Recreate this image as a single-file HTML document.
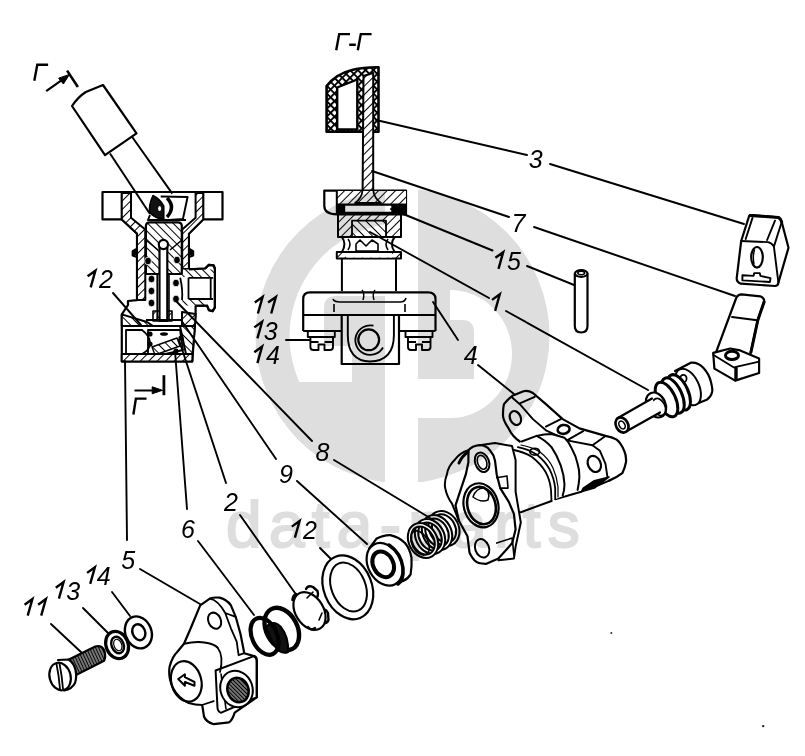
<!DOCTYPE html>
<html><head><meta charset="utf-8">
<style>
html,body{margin:0;padding:0;background:#fff;}
body{width:805px;height:756px;overflow:hidden;position:relative;}
svg{position:absolute;left:0;top:0;}
.wm{font-family:"Liberation Sans",sans-serif;font-size:64px;fill:#dedede;stroke:#dedede;stroke-width:2px;letter-spacing:7.3px;}
.lb{font-family:"Liberation Sans",sans-serif;font-style:italic;font-size:25px;fill:#000;}
</style></head>
<body>
<svg width="805" height="756" viewBox="0 0 805 756">
<defs>
  <clipPath id="cl"><rect x="0" y="0" width="385" height="756"/></clipPath>
  <clipPath id="cc"><circle cx="402.5" cy="336" r="147"/></clipPath>
  <clipPath id="cr"><rect x="418" y="0" width="387" height="756"/></clipPath>
  <pattern id="hat" patternUnits="userSpaceOnUse" width="6" height="6" patternTransform="rotate(45)">
    <rect width="6" height="6" fill="#fff"/><line x1="0" y1="0" x2="0" y2="6" stroke="#000" stroke-width="2"/>
  </pattern>
  <pattern id="hat2" patternUnits="userSpaceOnUse" width="6" height="6" patternTransform="rotate(-45)">
    <rect width="6" height="6" fill="#fff"/><line x1="0" y1="0" x2="0" y2="6" stroke="#000" stroke-width="2"/>
  </pattern>
</defs>
<!-- LEFT SECTIONAL BODY -->
<g id="body" stroke="#000" stroke-width="2" stroke-linejoin="round" fill="none">
  <!-- section arrow top -->
  <path d="M46.2,91.1 L61,80.7" stroke-width="2.2"/>
  <path d="M58.6,78.2 L69.5,74.4 L63.4,84 Z" fill="#000" stroke-width="1"/>
  <path d="M67.1,70.6 L77.9,87" stroke-width="2.6"/>
  <!-- knob -->
  <path d="M72,106 Q78,97 85.8,92 L103,85 L136.5,133.3 L105,155.1 Z" fill="#fff" stroke-width="2.2"/>
  <!-- outer silhouette -->
  <path d="M102.5,192 L222.5,192 L222.5,219.4 L203.2,219.4 L188.9,233.6 L188.9,248.7 L193.1,251.2 L193.1,255.4 L188.9,257.1 L188.9,269.4 L205.2,268.5 L208.9,264.8 L213.5,265.3 L214.9,268.5 L214.9,307.4 L212.6,311.1 L208.9,310.2 L207,305.6 L195.6,305.6 L195.6,314 L192.3,361.4 L121.8,361.4 L121.8,314.4 L128,305 L128,301 L137,300.2 L137,257.1 L132.7,255.4 L132.7,251.2 L137,248.7 L137,233.6 L121.8,219.4 L102.5,219.4 Z" fill="#fff" stroke-width="2.2"/>
  <path d="M121.8,192 L121.8,219.4 M203.2,192 L203.2,219.4"/>
  <!-- hatched walls -->
  <path d="M121.8,193 L131,193 L131,217.7 L145.3,229.4 L145.3,300 L137,300 L137,233.6 L121.8,219.4 Z" fill="url(#hat)"/>
  <path d="M195.6,193 L203.2,193 L203.2,219.4 L188.9,233.6 L188.9,269 L182.2,269 L182.2,229.4 L195.6,217.7 Z" fill="url(#hat)"/>
  <path d="M182.2,269.4 L214.9,269.4 L214.9,276.9 L182.2,276.9 Z M182.2,299 L207,299 L207,305.6 L182.2,305.6 Z" fill="url(#hat2)" stroke="none"/>
  <path d="M188.9,269.4 L205.2,268.5 L208.9,264.8 L213.5,265.3 L214.9,268.5 L214.9,307.4 L212.6,311.1 L208.9,310.2 L207,305.6 L195.6,305.6" stroke-width="2.2"/>
  <path d="M188.5,277.8 L213,277.8 M188.5,299 L213,299 M188.5,277.8 L188.5,299 M210.7,277.8 L210.7,299" stroke-width="1.8"/>
  <path d="M180.2,277.8 Q183,290 182,300" stroke-width="1.8"/>
  <!-- shaft -->
  <path d="M110,153.5 L150,214 M132.2,137 L172.3,193.7" stroke-width="2"/>
  <!-- lever end in cavity -->
  <path d="M160.7,196.4 L187.6,196.9 L182.9,219.1 L166,220.2" fill="#fff" stroke-width="2"/>
  <path d="M153,195.5 Q148,206 150,213 Q156,219 163.8,219.1 L163.8,206 Q160,199 153,195.5 Z" fill="#111" stroke-width="1.5"/>
  <ellipse cx="159.6" cy="208.5" rx="1.5" ry="2.5" fill="#fff" stroke="none"/>
  <path d="M167,198 Q176,207 167,217" stroke-width="3.4"/>
  <path d="M150,215 L148,220 L186,220" stroke-width="2"/>
  <!-- plunger top hatched -->
  <path d="M145.9,226 Q145.9,222.3 150,222.3 L178,222.3 Q181.8,222.3 181.8,226 L181.8,274 L145.9,274 Z" fill="url(#hat2)" stroke-width="2.2"/>
  <path d="M146,240 L158,250 M182,240 L170,250" stroke-width="1.6"/>
  <!-- tube & stem -->
  <path d="M153,311 L172,311 L172,321 L153,321 Z" fill="url(#hat)" stroke-width="1.6"/>
  <path d="M157.2,274 L157.2,321 M169,274 L169,321" stroke-width="1.6"/>
  <path d="M159.5,321 L159.5,247 L167.3,247 L167.3,321 Z" fill="#fff" stroke-width="2.2"/>
  <circle cx="163.4" cy="244.5" r="4.6" fill="#fff" stroke-width="2.2"/>
  <!-- spring coils -->
  <g fill="#000" stroke="#fff" stroke-width="0.8">
    <ellipse cx="148" cy="261" rx="3.4" ry="3.8"/><ellipse cx="151.5" cy="279" rx="3.4" ry="3.8"/><ellipse cx="151.5" cy="291" rx="3.4" ry="3.8"/><ellipse cx="151.5" cy="303" rx="3.4" ry="3.8"/>
    <ellipse cx="177" cy="260" rx="3.4" ry="3.8"/><ellipse cx="176" cy="283" rx="3.4" ry="3.8"/><ellipse cx="176" cy="299" rx="3.4" ry="3.8"/>
  </g>
  <g fill="#000" stroke="none"><ellipse cx="135" cy="253" rx="2" ry="2.5"/><ellipse cx="191" cy="253" rx="2" ry="2.5"/></g>
  <path d="M146,320 L182,320" stroke-width="2"/>
  <!-- bottom block -->
  <path d="M121.8,326 L195,326" stroke-width="1.8"/>
  <path d="M121.8,314.4 L147,322 L153,326 L121.8,326 Z" fill="url(#hat2)"/>
  <path d="M182,312 L195.6,314 L195,326 L182,326 Z" fill="url(#hat)"/>
  <path d="M126,330 L142,330 Q150,336 150,343 Q150,350 142,354 L126,354 Z" fill="#fff" stroke-width="1.8"/>
  <path d="M148,330 L180,330 L183,350 L148,358 Z" fill="none" stroke-width="1.8"/>
  <path d="M152,347 L177,338 L180,346 L155,355 Z" fill="url(#hat2)" stroke-width="1.4"/>
  <ellipse cx="164" cy="334" rx="4" ry="1.8" fill="#000" stroke="none"/>
  <path d="M121.8,354 L192.5,354 L192.3,361.4 L121.8,361.4 Z" fill="url(#hat)"/>
  <path d="M180,326 L186,354 L192.5,354 L195,326 Z" fill="url(#hat2)"/>
  <g fill="#000" stroke="none">
    <circle cx="150" cy="334" r="2.6"/><circle cx="150" cy="344" r="2.6"/><circle cx="181" cy="338" r="2.6"/><circle cx="176" cy="351" r="2.6"/>
  </g>
  <!-- bottom section arrow -->
  <path d="M163.9,375.2 L163.9,395.2" stroke-width="2.8"/>
  <path d="M134.5,390.5 L154,390.5" stroke-width="2"/>
  <path d="M152.2,386.8 L162.5,390.3 L152.2,393.8 Z" fill="#000" stroke-width="1"/>
</g>

<!-- SECTION VIEW Г-Г -->
<defs>
  <pattern id="xh" patternUnits="userSpaceOnUse" width="5.5" height="5.5" patternTransform="rotate(45)">
    <rect width="5.5" height="5.5" fill="#000"/><rect x="1" y="1" width="3.6" height="3.6" fill="#fff"/>
  </pattern>
</defs>
<g id="sect" stroke="#000" stroke-width="2" stroke-linejoin="round" fill="none">
  <!-- knob 3 section -->
  <path d="M326.6,131.7 L326.6,86 Q336,74 352,70 Q364,67 378.5,67.2 L378.5,131.7 Z" fill="url(#xh)" stroke-width="2.6"/>
  <path d="M337.2,129.5 L337.2,87.5 L357.3,79.5 L357.3,129.5 Z" fill="#fff" stroke-width="2.4"/>
  <!-- rod -->
  <path d="M363.5,76 L373.2,73 L373.2,191 L362.6,191 Z" fill="url(#hat)" stroke-width="2"/>
  <!-- body top cap -->
  <path d="M324.3,190.6 L406,190.6 L406,214.4 L336.8,214.4 Q324.3,214 324.3,206 Z" fill="#fff" stroke-width="2.2"/>
  <path d="M336.8,191 L406,191 L406,204 L336.8,204 Z" fill="url(#hat)" stroke="none"/>
  <path d="M336.8,190.6 L336.8,214.4"/>
  <path d="M362.6,190 Q362,198 355,203 L381,203 Q374,198 373.2,190" fill="none" stroke-width="1.8"/>
  <rect x="336.8" y="203.5" width="69.2" height="11" fill="#000" stroke="none"/>
  <rect x="344.4" y="205" width="47.7" height="7.6" fill="#fff" stroke-width="1.6"/>
  <!-- middle block -->
  <path d="M338,214.4 L401,214.4 L401,237 L338,237 Z" fill="url(#hat)" stroke-width="2"/>
  <path d="M352,220.7 L386,220.7 L386,237 L352,237 Z" fill="url(#hat2)" stroke-width="1.8"/>
  <!-- neck with grooves -->
  <path d="M341.9,237 Q347,244 341.9,252 M394.7,237 Q389,244 394.7,252" stroke-width="2"/>
  <path d="M348,239 Q352,244 348,250 M388,239 Q384,244 388,250" stroke-width="1.6"/>
  <path d="M356,244 L360,240 L366,246 L372,240 L378,244 L378,251 L356,251 Z" fill="none" stroke-width="1.6"/>
  <path d="M341.9,237 L394.7,237"/>
  <!-- bottom flange -->
  <path d="M336.8,252 L401,252 L401,258.4 L336.8,258.4 Z" fill="url(#hat)" stroke-width="2"/>
  <path d="M346,253 L392,253 L392,257.5 L346,257.5 Z" fill="#fff" stroke="none"/>
  <!-- column -->
  <path d="M341.9,258.4 L341.9,291 M396,258.4 L396,291" stroke-width="2"/>
  <!-- bracket -->
  <path d="M303.2,331 L303.2,299 Q303.2,292.4 310,292.4 L428,292.4 Q435.5,292.4 435.5,299 L435.5,331" stroke-width="2.2"/>
  <path d="M303.2,315 L435.5,315 M303.2,331 L341.7,331 M399,331 L435.5,331" stroke-width="2"/>
  <path d="M333,299 Q334,302 340,302 L400,302 Q405,302 406,298 M334,304 L334,312 M405,304 L405,312" stroke-width="1.6"/>
  <path d="M362,290 Q365,294 363,300 M375,290 Q372,294 374,300" stroke-width="1.5"/>
  <!-- eye boss -->
  <path d="M341.7,315 L341.7,364 L399,364 L399,315" stroke-width="2.2"/>
  <path d="M347.8,315 L347.8,335 Q347.8,361 370,361.5 Q393.9,361 393.9,335 L393.9,315" stroke-width="1.9"/>
  <circle cx="368.7" cy="339.8" r="10.4" stroke-width="2.2"/>
  <path d="M383,347.5 A14.8,14.8 0 1 1 373.5,325.7" stroke-width="1.8"/>
  <!-- screw heads -->
  <path d="M307.8,331 L334.8,331 L334.8,337 L307.8,337 Z" stroke-width="1.9"/>
  <path d="M310.4,337 L310.4,347 Q310.4,350 313.5,350 L318.5,350 L318.5,344.5 L324.5,344.5 L324.5,350 L330,350 Q333,350 333,347 L333,337 M310.4,342 L318.5,342 M324.5,342 L333,342" stroke-width="1.9"/>
  <path d="M405.5,331 L432.5,331 L432.5,337 L405.5,337 Z" stroke-width="1.9"/>
  <path d="M408,337 L408,347 Q408,350 411,350 L416,350 L416,344.5 L422,344.5 L422,350 L427.5,350 Q430.5,350 430.5,347 L430.5,337 M408,342 L416,342 M422,342 L430.5,342" stroke-width="1.9"/>
</g>

<!-- RIGHT PARTS -->
<g id="right" stroke="#000" stroke-width="2" stroke-linejoin="round" stroke-linecap="round" fill="none">
  <!-- part 3 knob -->
  <path d="M749.1,216.2 Q750,215 752.5,215.1 L778.4,217.4 Q781,219 781.7,221.9 L788.5,247.7 L778.4,282.6 Q778,286 775,286 L741,283.7 Q736.5,282 736.7,278.1 L741.2,241 Z" fill="#fff" stroke-width="2.2"/>
  <path d="M750,215.5 L778.4,217.4 Q781,219 781.7,221.9" stroke-width="3"/>
  <path d="M741.2,241 L768.2,242.1 Q772,243 773.9,246.6 L778.4,282.6 M745.7,239 L752.5,217.9 M767.1,240 L775,220.7 M773.9,246.6 L781.7,222" stroke-width="1.9"/>
  <ellipse cx="757" cy="257.3" rx="5.8" ry="10.3" stroke-width="2.2"/>
  <path d="M754.5,250 Q752.5,256 754,264" stroke-width="1.4"/>
  <path d="M742.4,275.3 L753.6,275.9 L754.2,273.1 L759.8,273.1 L760.4,275.9 L770.5,278.1 L769.9,282 L742.4,280.4 Z" stroke-width="1.9"/>
  <!-- pin 15 -->
  <path d="M574.8,274 L574.8,326 Q574.8,332.5 581.2,332.5 Q587.5,332.5 587.5,326 L587.5,274" fill="#fff" stroke-width="2.2"/>
  <ellipse cx="581.2" cy="273.5" rx="6.3" ry="3.4" fill="#fff" stroke-width="2.2"/>
  <ellipse cx="581.2" cy="273" rx="3.4" ry="1.7" stroke-width="1.6"/>
  <!-- part 7 lever -->
  <path d="M716.3,351.6 L736.4,297.5 Q738,294.4 741.5,294.4 L760.3,296.3 Q764.5,298 764.1,301.3 L757.8,320.2 L750.3,354.2" fill="#fff" stroke-width="2.2"/>
  <path d="M764.1,302 L757.8,320.2 L751,352" stroke-width="3"/>
  <path d="M732,317 L757.2,320.2" stroke-width="1.9"/>
  <path d="M713.2,352.9 L730.2,348.5 L740.2,350.4 L759.1,358.6 L759.1,373 L735.2,380.6 L714.4,368.6 Z" fill="#fff" stroke-width="2.2"/>
  <path d="M713.2,354.8 L733.9,367.4 L759.1,361.7 M735.2,368 L735.2,380.6 M736.8,368 L736.8,380" stroke-width="1.8"/>
  <ellipse cx="732" cy="355.4" rx="6.5" ry="4.2" stroke-width="3"/>
  <!-- part 1 plunger -->
  <path d="M675,371 L690.8,362.7 Q698,362 703.5,368 Q709,374 710.9,381.7 Q713,390 712,392.3 Q711,397 706.7,399.7 L695,404.5" fill="#fff" stroke-width="2.2"/>
  <ellipse cx="688" cy="387" rx="11" ry="19.5" transform="rotate(-25 688 387)" fill="#fff" stroke-width="2"/>
  <ellipse cx="683.4" cy="378.6" rx="3.2" ry="3.8" stroke-width="1.8"/>
  <ellipse cx="679" cy="392.3" rx="9" ry="19" transform="rotate(-25 679 392.3)" fill="#fff" stroke-width="3"/>
  <ellipse cx="672.8" cy="395.5" rx="9" ry="19" transform="rotate(-25 672.8 395.5)" fill="#fff" stroke-width="3"/>
  <ellipse cx="666.5" cy="399.5" rx="9" ry="18.5" transform="rotate(-25 666.5 399.5)" fill="#fff" stroke-width="3"/>
  <ellipse cx="656" cy="405" rx="9.5" ry="13" transform="rotate(-25 656 405)" fill="#fff" stroke-width="2.2"/>
  <ellipse cx="659" cy="407" rx="6" ry="9" transform="rotate(-25 659 407)" fill="#fff" stroke-width="1.8"/>
  <path d="M617,418.5 L652,398.5 L660,412.5 L627,431 Z" fill="#fff" stroke="none"/>
  <path d="M617,418.5 L652,398.5 M627,431 L660,412.5" stroke-width="2.2"/>
  <ellipse cx="622" cy="425" rx="6" ry="8" transform="rotate(-30 622 425)" fill="#fff" stroke-width="2.6"/>
  <ellipse cx="622" cy="425" rx="2.8" ry="4.2" transform="rotate(-30 622 425)" stroke-width="1.6"/>
  <!-- part 4 housing -->
  <!-- rear arm & right lug -->
  <path d="M512.4,395.8 L523.5,391.2 Q528,390 532.9,393 L545.9,404.2 L562.7,419.1 L579.4,428.4 L605.5,435.9 L616.7,439.6 Q622,444 624.2,450.8 Q627,456 626,462 Q625,468 622.3,473.2 L609.2,480.6 L581.3,491.8 L555.2,499.2 L540,480 L521.7,441.5 Q512,436 508.6,428.4 Q503,420 503,415.4 Q503,408 504,404.2 Z" fill="#fff" stroke="none"/>
  <path d="M519.8,441.5 Q512,436 508.6,428.4 Q503,420 503,415.4 Q503,408 504,404.2 Q508,399 512.4,395.8 L523.5,391.2 Q528,390 532.9,393 L545.9,404.2 L562.7,419.1 L579.4,428.4 L605.5,435.9 Q612,437 616.7,439.6 Q621,443 624.2,450.8 Q626.5,456 626,462 Q625,468 622.3,473.2 Q616,478 609.2,480.6" stroke-width="2.2"/>
  <path d="M512.4,397.7 L519.8,404.2 L532.9,419.1 L545.9,430.3 L568.3,440.6 L592.5,445.2 L605.5,435.9 M519.8,403.3 L534.7,396.8 M545.9,426.6 L560.8,419.1 M568.3,439.6 L583.2,431.2" stroke-width="1.9"/>
  <path d="M592.5,445.2 L599.9,450.8 L605.5,463.9 L607.4,476.9" stroke-width="1.9"/>
  <path d="M583.2,488.1 L594.3,480.6 L609.2,476.9 L594.3,488.1 L581.3,491.8 Z" fill="#000" stroke-width="1.4"/>
  <path d="M555.2,499.2 L581.3,491.8 M609.2,480.6 L594,487" stroke-width="2"/>
  <ellipse cx="515.4" cy="418" rx="5.3" ry="7.3" transform="rotate(-25 515.4 418)" stroke-width="2.2"/>
  <ellipse cx="563.6" cy="429.4" rx="6" ry="4.4" transform="rotate(-10 563.6 429.4)" stroke-width="2.6"/>
  <ellipse cx="594.3" cy="463.9" rx="6.3" ry="8.4" transform="rotate(-25 594.3 463.9)" stroke-width="2.2"/>
  <!-- cylinder -->
  <path d="M512,452 L521.7,441.5 L536.6,435.9 L551.5,434 L564.5,437.8 L572,448.9 L577.6,463.9 L579.4,476.9 L577.6,489.9 L555.2,499.2 L520.8,512.2 Z" fill="#fff" stroke="none"/>
  <path d="M521.7,441.5 L536.6,435.9 Q544,434 551.5,434 L564.5,437.8 Q569,442 572,448.9 Q576,456 577.6,463.9 Q579.5,470 579.4,476.9 Q579,484 577.6,489.9" stroke-width="2"/>
  <path d="M536.6,435.9 Q545,440 551.5,447.1 Q557,455 560.8,465.7 Q564,475 564.5,484.3 Q564.5,490 562.7,495.5" stroke-width="2"/>
  <path d="M517.9,447.1 Q528,449 536.6,454.5 Q545,461 549.6,469.4 Q554,478 555.2,488.1 L555.2,499.2 M514,450 Q524,452 532,457 Q541,464 545.6,472 Q550,480 551,490 L551.5,501" stroke-width="1.8"/>
  <path d="M521,445 Q532,447 540,452 Q549,459 553,468 Q557,477 558,487 L558,497" stroke-width="1.2"/>
  <ellipse cx="534.7" cy="451.7" rx="4.8" ry="3.4" stroke-width="1.8"/>
  <path d="M520.8,512.2 L551.5,501" stroke-width="2"/>
  <!-- front flange -->
  <path d="M468.4,450.3 L455.5,458.9 Q448,466 446.9,474.4 Q444,482 445.2,488.1 Q447,497 452,503.6 L458.9,520.8 L467.5,536.3 Q468,545 469.2,550 Q472,559 474.4,560.3 L486.4,563.8 L498.4,558.6 L513.9,558.6 L515.6,546.6 L520.8,522.5 L515.6,491.6 L512.2,460.6 L495,460.6 Q493,452 489.9,450.3 Q485,445 479.5,445.2 Z" fill="#fff" stroke="none"/>
  <path d="M468.4,450.3 Q460,453 455.5,458.9 Q448,466 446.9,474.4 Q444,482 445.2,488.1 Q447,497 452,503.6 L458.9,520.8" stroke-width="2"/>
  <path d="M459,463 Q462,456 468,452" stroke-width="3"/>
  <path d="M468.4,450.3 Q472,446 479.5,445.2 Q486,445 489.9,450.3 Q494,455 495,460.6 L496.7,474.4 L500.2,488.1 L508.8,501.9 L513.9,513.9 L515.6,529.4 L512.2,543.1 L498.4,558.6 L486.4,563.8 Q478,564 474.4,560.3 Q469,554 469.2,550 L467.5,536.3 L458.9,520.8 L455.5,505.3 L460.6,489.9 L465.8,474.4 L468.4,462.3 Z" stroke-width="2.2"/>
  <path d="M479.5,445.2 L495,443 L512,446 L515.6,460 L515.6,491.6 L520.8,522.5 L515.6,546.6 L513.9,558.6 L498.4,560.3" stroke-width="2"/>
  <path d="M496.7,477.8 L507,476 L508,488.1 L500.2,488.1" stroke-width="1.6"/>
  <path d="M496.7,543.1 L512.2,538 L513.9,555.2" stroke-width="1.6"/>
  <ellipse cx="482.1" cy="462.3" rx="6.9" ry="10" transform="rotate(-20 482.1 462.3)" stroke-width="2"/>
  <ellipse cx="482.1" cy="462.3" rx="4.5" ry="7.2" transform="rotate(-20 482.1 462.3)" stroke-width="1.6"/>
  <ellipse cx="482.1" cy="548.3" rx="6.9" ry="9.5" transform="rotate(-20 482.1 548.3)" stroke-width="2"/>
  <ellipse cx="481" cy="505.3" rx="17.2" ry="22.3" transform="rotate(-15 481 505.3)" stroke-width="2.2"/>
  <ellipse cx="481.5" cy="505.5" rx="14" ry="19" transform="rotate(-15 481.5 505.5)" stroke-width="2.6"/>
  <path d="M473,497 Q476,488 484,488 Q491,492 488,500 Q481,503 473,497" stroke-width="1.5"/>
</g>

<!-- BOTTOM PARTS -->
<defs>
  <pattern id="thr" patternUnits="userSpaceOnUse" width="2.8" height="2.8" patternTransform="rotate(-25)">
    <rect width="3" height="3" fill="#777"/><line x1="0" y1="0" x2="0" y2="3" stroke="#000" stroke-width="1.8"/>
  </pattern>
</defs>
<g id="bottom" stroke="#000" stroke-width="2" stroke-linejoin="round" stroke-linecap="round" fill="none">
  <!-- spring 8 -->
  <g>
    <ellipse cx="444" cy="528.5" rx="13" ry="16.5" transform="rotate(-28 444 528.5)" fill="#fff" stroke-width="5.4"/>
    <ellipse cx="444" cy="528.5" rx="13" ry="16.5" transform="rotate(-28 444 528.5)" stroke="#fff" stroke-width="1.4"/>
    <ellipse cx="437" cy="532.5" rx="12.5" ry="16.5" transform="rotate(-28 437 532.5)" stroke-width="5.4"/>
    <ellipse cx="437" cy="532.5" rx="12.5" ry="16.5" transform="rotate(-28 437 532.5)" stroke="#fff" stroke-width="1.4"/>
    <ellipse cx="430" cy="536.5" rx="12.5" ry="16.5" transform="rotate(-28 430 536.5)" stroke-width="5.4"/>
    <ellipse cx="430" cy="536.5" rx="12.5" ry="16.5" transform="rotate(-28 430 536.5)" stroke="#fff" stroke-width="1.4"/>
    <ellipse cx="423" cy="540.5" rx="12.5" ry="16.5" transform="rotate(-28 423 540.5)" stroke-width="5.4"/>
    <ellipse cx="423" cy="540.5" rx="12.5" ry="16.5" transform="rotate(-28 423 540.5)" stroke="#fff" stroke-width="1.4"/>
    <ellipse cx="420" cy="543" rx="8" ry="13" transform="rotate(-28 420 543)" stroke-width="1.6"/>
  </g>
  <!-- bearing 9 -->
  <path d="M369,549 L376.3,538.8 Q383,535 390.2,535.1 Q399,537 405,543 Q410,549 411.5,557.8 Q412,566 410.6,574.4 Q408,579 403.1,580.9 L392,585" fill="#fff" stroke-width="2.2"/>
  <ellipse cx="384.6" cy="564.3" rx="16.5" ry="22.5" transform="rotate(-28 384.6 564.3)" fill="#fff" stroke-width="2.2"/>
  <path d="M389,545 Q401,553 403,568 Q404,580 398,584" stroke-width="3.5"/>
  <ellipse cx="383.2" cy="564.3" rx="10" ry="13.5" transform="rotate(-28 383.2 564.3)" stroke-width="4"/>
  <!-- o-ring 12 -->
  <ellipse cx="347.8" cy="587.3" rx="24" ry="33" transform="rotate(-22 347.8 587.3)" stroke-width="2.2"/>
  <ellipse cx="348.5" cy="587" rx="17" ry="25.5" transform="rotate(-22 348.5 587)" stroke-width="2"/>
  <!-- clip 2 -->
  <path d="M306,589 Q308,585 313,587 L317.5,591 Q319,596 316,598" fill="#fff" stroke-width="2.4"/>
  <path d="M320,610 Q325,607 328,613 L328.5,620 Q327,624 322,623" fill="#fff" stroke-width="2.4"/>
  <ellipse cx="309.5" cy="611" rx="14" ry="20.5" transform="rotate(-32 309.5 611)" fill="#fff" stroke-width="2.2"/>
  <path d="M307,598 L313,592 M322,613 L319,620" stroke-width="1.6"/>
  <path d="M308,627 Q311,631 315,628" stroke-width="2.2"/>
  <path d="M292.5,600 Q293,595 296,594" stroke-width="2.6"/>
  <!-- spring ring 6 -->
  <ellipse cx="281.8" cy="629" rx="15.5" ry="22.5" transform="rotate(-28 281.8 629)" stroke-width="4.4"/>
  <path d="M266,627 Q273,619 281,627 Q289,637 288,652 Q284,654 279,651 Q270,640 266,627 Z" fill="#111" stroke-width="2"/>
  <ellipse cx="264.6" cy="636.3" rx="12.5" ry="19.5" transform="rotate(-25 264.6 636.3)" stroke-width="4.2"/>
  <!-- body 5 -->
  <path d="M200.2,605.3 L209.8,598.6 Q214,597 219.4,597.7 Q226,599 230.9,605.3 L235.7,616.8 L240.5,634 L244.3,653.2 L253.9,656.1 Q257,658 256.8,662 L256.8,697.3 L234.7,712.7 Q232,721 229,722.3 L213.7,724.2 Q206,722 204,716.5 L202.2,705 Q195,705 188.7,703 Q178,698 173,688 Q168,678 169.6,666.7 Q172,657 178,651 L184,643.7 L190.7,628.3 Z" fill="#fff" stroke-width="2.2"/>
  <path d="M209.8,598.6 Q218,600 225.2,613 L230.9,628.3 L236.7,641.7 L238.6,655.2 M225.2,613 L235.7,616.8 M238.6,655.2 L244.3,653.2" stroke-width="1.8"/>
  <path d="M184,643.7 Q196,641 206,642.7 Q214,644 217.5,647.5" stroke-width="2"/>
  <ellipse cx="214.6" cy="620.7" rx="6.2" ry="8.4" transform="rotate(-25 214.6 620.7)" stroke-width="2"/>
  <ellipse cx="186.3" cy="681.4" rx="15" ry="20.6" transform="rotate(-15 186.3 681.4)" stroke-width="2.2"/>
  <path d="M217.5,647.5 Q224,656 220,672 M202,705 L213.7,701.2" stroke-width="1.8"/>
  <path d="M178.2,679 L184.9,674.3 L184.9,677.2 L194.5,682 L194.5,685.8 L184.9,682 L184.9,685.8 Z" stroke-width="2"/>
  <path d="M215.6,670.5 L253.9,656.1 Q257,656 256.8,661 L256.8,697.3 L221.3,712.7 Q218,712 217.5,708 Z" stroke-width="2"/>
  <path d="M221,674 Q224,694 226,709" stroke-width="1.6"/>
  <ellipse cx="236.5" cy="689" rx="16" ry="18.5" transform="rotate(-20 236.5 689)" fill="#fff" stroke-width="2"/>
  <ellipse cx="238" cy="690" rx="10.5" ry="12.5" transform="rotate(-20 238 690)" fill="url(#thr)" stroke-width="2.4"/>
  <!-- washer 14 -->
  <ellipse cx="138.4" cy="632.4" rx="13" ry="16.4" transform="rotate(-22 138.4 632.4)" fill="#fff" stroke-width="2.4"/>
  <ellipse cx="138.8" cy="632.2" rx="6.3" ry="8.2" transform="rotate(-22 138.8 632.2)" stroke-width="2.4"/>
  <!-- washer 13 -->
  <ellipse cx="117.1" cy="645" rx="11" ry="14" transform="rotate(-22 117.1 645)" fill="#fff" stroke-width="3.2"/>
  <ellipse cx="117.6" cy="645" rx="6" ry="8.5" transform="rotate(-22 117.6 645)" stroke-width="2.4"/>
  <ellipse cx="117.8" cy="645" rx="3.8" ry="6" transform="rotate(-22 117.8 645)" stroke-width="1.2"/>
  <!-- screw 11 -->
  <path d="M68,660 L95.2,646.5 Q102,645 104.5,651 Q106,657 104.1,660.7 L75,675.6 Z" fill="url(#thr)" stroke-width="2.2"/>
  <path d="M58,660 L68.5,659.5 Q74,663 75.5,670 Q77,677 75,683 Q72,689 64.3,690.5" fill="#fff" stroke-width="2.2"/>
  <ellipse cx="60.1" cy="676.5" rx="10.5" ry="14" transform="rotate(-15 60.1 676.5)" fill="#fff" stroke-width="2.2"/>
  <path d="M56.5,664 Q59,676 60,689 M59.5,663.5 Q62,676 63,689" stroke-width="1.8"/>
</g>


<!-- watermark -->
<g id="wm" style="mix-blend-mode:multiply">
  <g clip-path="url(#cl)">
    <circle cx="402.5" cy="336" r="147" fill="#dedede"/>
    <circle cx="402.5" cy="336" r="113" fill="#fff"/>
    <rect x="290" y="382" width="110" height="110" fill="#dedede" clip-path="url(#cc)"/>
    <path d="M324,346 L324,308 Q324,296 336,296 L400,296 L400,346 Z" fill="#dedede"/>
    <rect x="352" y="340" width="50" height="50" fill="#dedede"/>
  </g>
  <g clip-path="url(#cr)">
    <circle cx="402.5" cy="336" r="147" fill="#dedede"/>
    <path d="M450,290 A62,64 0 0 1 450,418 L418,418 L418,379 L450,379 Z" fill="#fff"/>
    <path d="M418,379 L418,320 L462,320 Q474,320 474,332 L474,379 Z" fill="#dedede"/>
  </g>
  <text class="wm" x="226" y="547">data-parts</text>
</g>
<circle cx="611.3" cy="633" r="1" fill="#333"/><circle cx="763.2" cy="726.1" r="1.2" fill="#222"/>
<!-- labels -->
<g id="labels">
<path d="M495.4,257.8 L503.2,252.2 L498.5,268.8 M492.0,299.9 L499.8,294.3 L495.1,310.9 M87.6,276.3 L95.4,270.7 L90.7,287.3 M291.8,526.6 L299.6,521.0 L294.9,537.6 M254.8,302.5 L262.6,296.9 L257.9,313.5 M268.1,302.5 L275.9,296.9 L271.2,313.5 M254.3,327.4 L262.1,321.8 L257.4,338.4 M254.3,352.2 L262.1,346.6 L257.4,363.2 M24.6,604.7 L32.4,599.1 L27.7,615.7 M38.1,604.7 L45.9,599.1 L41.2,615.7 M55.8,587.7 L63.6,582.1 L58.9,598.7 M87.1,572.9 L94.9,567.3 L90.2,583.9" stroke="#000" stroke-width="2.4" fill="none" stroke-linejoin="miter" stroke-miterlimit="6"/>
<text class="lb" x="528.7" y="167.6">3</text>
<text class="lb" x="511.5" y="231.7">7</text>
<text class="lb" x="463.8" y="364.3">4</text>
<text class="lb" x="315.5" y="461.2">8</text>
<text class="lb" x="279" y="482.5">9</text>
<text class="lb" x="224" y="510.5">2</text>
<text class="lb" x="181" y="538">6</text>
<text class="lb" x="121.3" y="568.7">5</text>
<text class="lb" x="507" y="270.1">5</text>
<text class="lb" x="99.1" y="288.4">2</text>
<text class="lb" x="302.9" y="539.1">2</text>
<text class="lb" x="263.8" y="339.7">3</text>
<text class="lb" x="265.9" y="364">4</text>
<text class="lb" x="66.2" y="600">3</text>
<text class="lb" x="96.7" y="585.3">4</text>
<path d="M336.2,50.3 L339.2,34.1 L350,34.1 M357.8,50.3 L360.8,34.1 L371.6,34.1 M349.2,44.7 L355.8,44.7 M34.3,80.7 L37.3,64.7 L48.1,64.7 M133.4,414.5 L135.9,398.6 L146.5,398.6" stroke="#000" stroke-width="2.4" fill="none" stroke-linejoin="miter"/>
</g>
<!-- leader lines -->
<g stroke="#000" stroke-width="1.9" fill="none" stroke-linecap="round">
  <path d="M376,120 L527,155 M550,164 L744,224"/>
  <path d="M372,171 L509,217 M534,227 L735,296"/>
  <path d="M391,209 L492.5,250.5 M527,266 L574,285"/>
  <path d="M370,232 L489,298 M506,311 L648,390"/>
  <path d="M433,302 L458,340 M478,365 L514,394"/>
  <path d="M286,340 L310,340"/>
  <path d="M113,293 L141,325"/>
  <path d="M175,300 L312,441 M334,460 L430,518"/>
  <path d="M181,320 L276,459 M297,481 L367,544"/>
  <path d="M179,340 L226,483 M240,515 L295,593"/>
  <path d="M175,351 L187,509 M198,541 L254,615"/>
  <path d="M125,361 L127,540 M140,569 L200,604"/>
  <path d="M320,548 L331,559"/>
  <path d="M51,624 L82,653 M83,608 L108,633 M112,592 L130,616"/>
</g>
</svg>
</body></html>
